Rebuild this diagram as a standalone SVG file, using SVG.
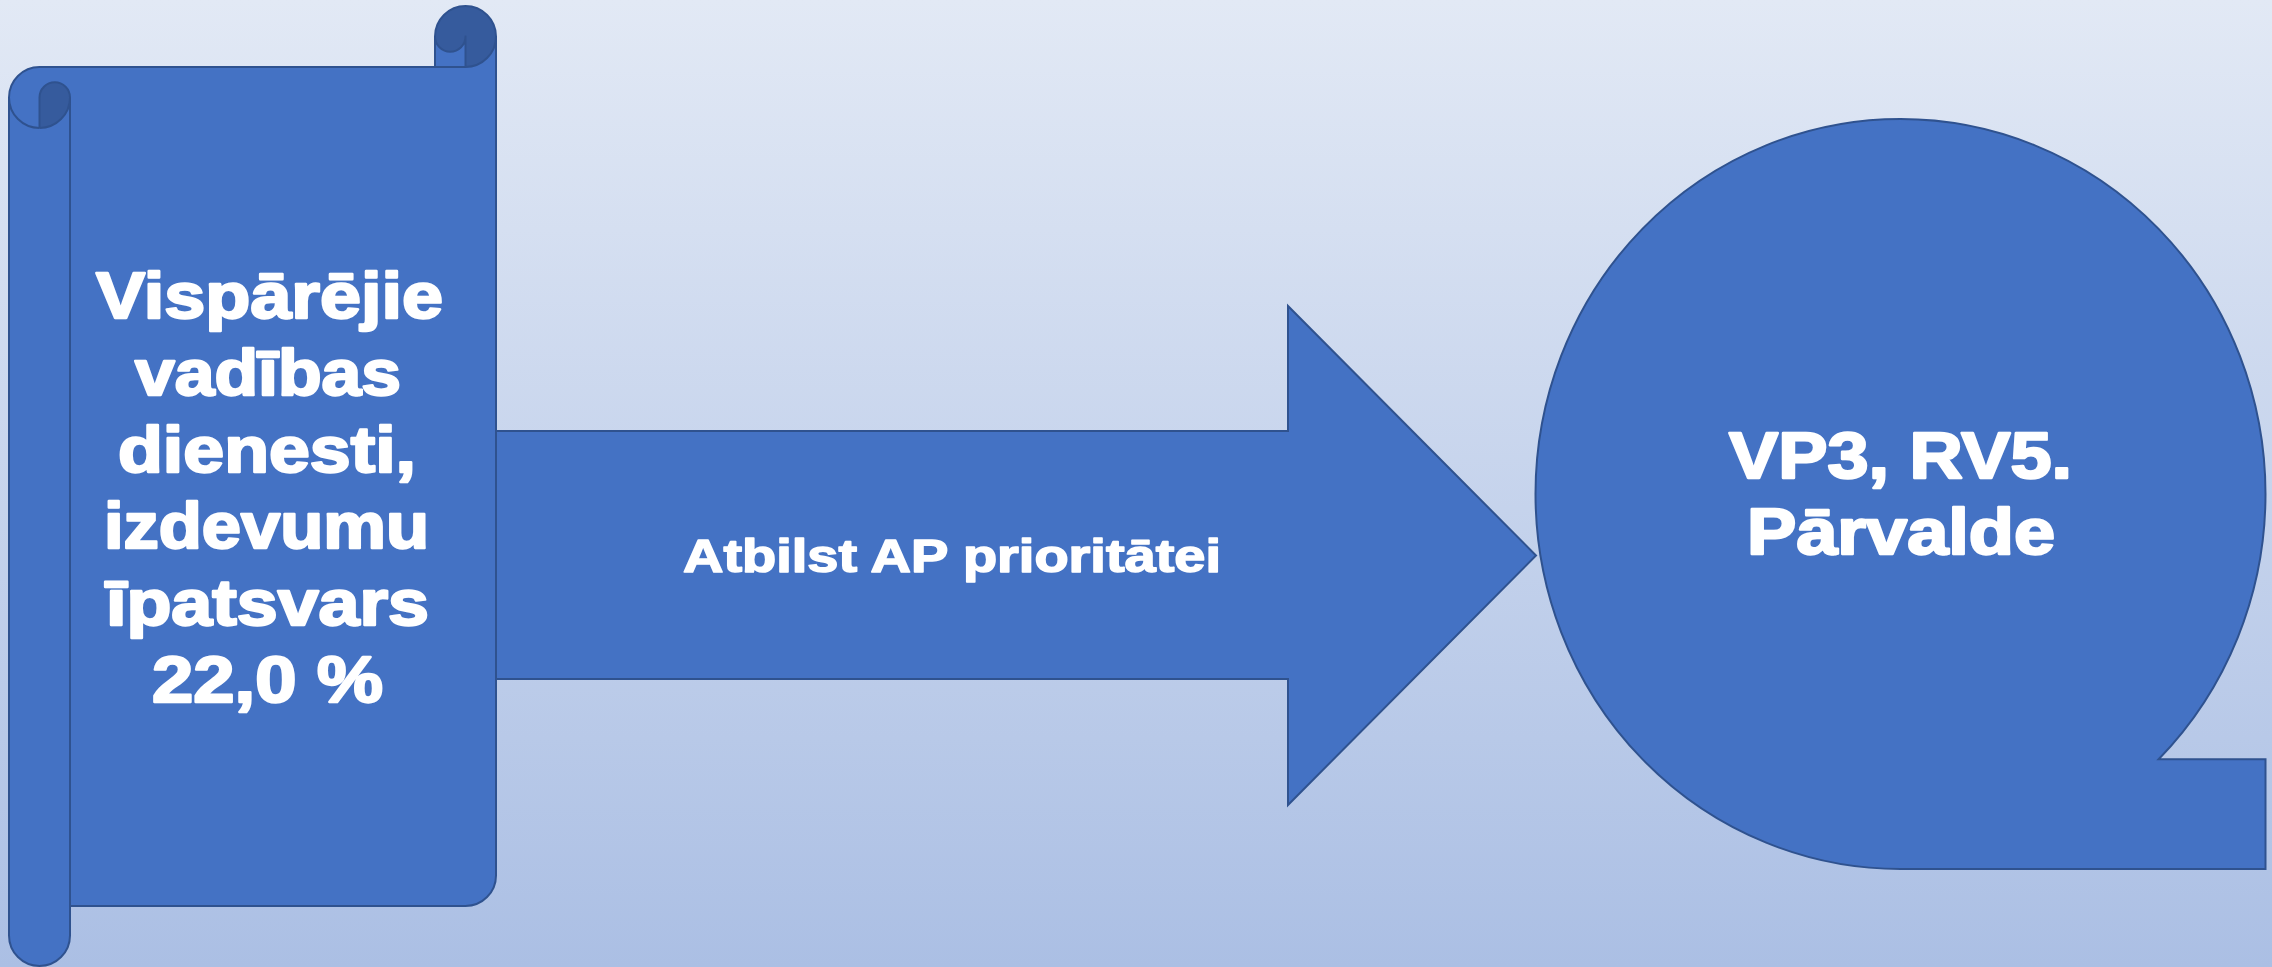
<svg xmlns="http://www.w3.org/2000/svg" width="2272" height="967" viewBox="0 0 2272 967">
<defs>
<linearGradient id="bg" x1="0" y1="0" x2="0" y2="1">
<stop offset="0" stop-color="#E2E9F5"/>
<stop offset="1" stop-color="#ABBFE4"/>
</linearGradient>
<style>
.main{fill:#4472C4;stroke:none}
.dark{fill:#365B9D;stroke:none}
.ol{fill:none;stroke:#2F528F;stroke-width:2;stroke-linejoin:round}
.shape{fill:#4472C4;stroke:#2F528F;stroke-width:2;stroke-linejoin:miter}
.t{font-family:"Liberation Sans",Arial,sans-serif;font-weight:bold;fill:#FFFFFF;stroke:#FFFFFF;stroke-width:2.4;stroke-linejoin:round}
</style>
</defs>
<rect x="0" y="0" width="2272" height="967" fill="url(#bg)"/>
<g id="connectors">
<g id="arrow">
<path class="shape" d="M496,431 L1288,431 L1288,306 L1536,555.5 L1288,805 L1288,679 L496,679 Z"/>
<text class="t" x="683" y="572" font-size="47" textLength="538" lengthAdjust="spacingAndGlyphs" style="stroke-width:1.6">Atbilst AP prioritātei</text>
</g>
</g>
<g id="scroll">
<path class="main" d="M9,97.5 A30.5,30.5 0 0 1 39.5,67 L435,67 L435,36.5 A30.5,30.5 0 0 1 496,36.5 L496,875.5 A30.5,30.5 0 0 1 465.5,906 L70,906 L70,935.5 A30.5,30.5 0 0 1 9,935.5 Z"/>
<path class="dark" d="M39.5,97.5 A15.25,15.25 0 0 1 70,97.5 A30.5,30.5 0 0 1 39.5,128 Z"/>
<path class="dark" d="M435,36.5 A15.25,15.25 0 0 0 465.5,36.5 L465.5,67 A30.5,30.5 0 0 0 496,36.5 A30.5,30.5 0 0 0 435,36.5 Z"/>
<path class="ol" d="M39.5,128 A30.5,30.5 0 0 1 9,97.5 A30.5,30.5 0 0 1 39.5,67 L465.5,67"/>
<path class="ol" d="M9,97.5 L9,935.5 A30.5,30.5 0 0 0 70,935.5 L70,97.5"/>
<path class="ol" d="M39.5,128 L39.5,97.5 A15.25,15.25 0 0 1 70,97.5 A30.5,30.5 0 0 1 39.5,128"/>
<path class="ol" d="M70,906 L465.5,906 A30.5,30.5 0 0 0 496,875.5 L496,36.5 A30.5,30.5 0 0 0 435,36.5 L435,67"/>
<path class="ol" d="M435,36.5 A15.25,15.25 0 0 0 465.5,36.5 L465.5,67 A30.5,30.5 0 0 0 496,36.5"/>
<text class="t" font-size="64">
<tspan x="96" y="317.5" textLength="347" lengthAdjust="spacingAndGlyphs">Vispārējie</tspan>
<tspan x="135" y="395" textLength="266" lengthAdjust="spacingAndGlyphs">vadības</tspan>
<tspan x="118" y="471.7" textLength="298" lengthAdjust="spacingAndGlyphs">dienesti,</tspan>
<tspan x="104" y="548.3" textLength="325" lengthAdjust="spacingAndGlyphs">izdevumu</tspan>
<tspan x="106" y="625" textLength="323" lengthAdjust="spacingAndGlyphs">īpatsvars</tspan>
<tspan x="152" y="701.7" textLength="231" lengthAdjust="spacingAndGlyphs">22,0 %</tspan>
</text>
</g>
<g id="tape">
<path class="shape" d="M1900.5,869 A365,375 0 0 1 1535.5,494 A365,375 0 0 1 1900.5,119 A365,375 0 0 1 2265.5,494 A365,375 0 0 1 2158.6,759.2 L2265.5,759.2 L2265.5,869 Z"/>
<text class="t" font-size="64">
<tspan x="1729" y="478.3" textLength="343" lengthAdjust="spacingAndGlyphs">VP3, RV5.</tspan>
<tspan x="1747" y="554" textLength="308" lengthAdjust="spacingAndGlyphs">Pārvalde</tspan>
</text>
</g>
</svg>
